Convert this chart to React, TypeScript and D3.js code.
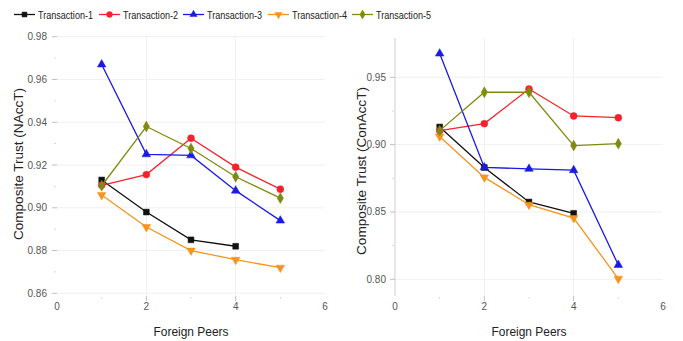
import React from "react";
import * as d3 from "d3";

const seriesNames = ["Transaction-1", "Transaction-2", "Transaction-3", "Transaction-4", "Transaction-5"];
const seriesColors = ["#111111", "#f5222d", "#1a1ae6", "#f7931e", "#808a12"];
const seriesShapes = ["square", "circle", "triangle", "triangleDown", "diamond"];

const peers = [1, 2, 3, 4, 5];

const naccT1 = [0.913, 0.898, 0.885, 0.882];
const naccT2 = [0.9105, 0.9155, 0.9325, 0.919, 0.9087];
const naccT3 = [0.967, 0.925, 0.9245, 0.908, 0.894];
const naccT4 = [0.906, 0.891, 0.880, 0.8757, 0.872];
const naccT5 = [0.9103, 0.938, 0.9277, 0.9145, 0.9045];

const conT1 = [0.9131, 0.883, 0.8574, 0.849];
const conT2 = [0.9104, 0.9156, 0.9413, 0.9213, 0.920];
const conT3 = [0.9676, 0.8831, 0.882, 0.881, 0.8106];
const conT4 = [0.906, 0.8757, 0.8554, 0.8455, 0.8004];
const conT5 = [0.9104, 0.9389, 0.9389, 0.8993, 0.9007];

const xTicks = [0, 2, 4, 6];
const leftYTicks = [0.86, 0.88, 0.90, 0.92, 0.94, 0.96, 0.98];
const rightYTicks = [0.80, 0.85, 0.90, 0.95];

const FONT = "Liberation Sans, Arial, sans-serif";

function Marker({ shape, x, y, color, scale = 1 }: { shape: string; x: number; y: number; color: string; scale?: number }) {
  const sym =
    shape === "square" ? d3.symbolSquare :
    shape === "circle" ? d3.symbolCircle :
    shape === "diamond" ? d3.symbolDiamond : d3.symbolTriangle;
  const size = (shape === "circle" ? 38 : shape === "square" ? 34 : shape === "diamond" ? 34 : 32) * scale;
  const path = d3.symbol().type(sym).size(size)() as string;
  const rot = shape === "triangleDown" ? 180 : 0;
  return <path d={path} transform={`translate(${x},${y}) rotate(${rot})`} fill={color} stroke={color} strokeWidth={0.5} />;
}

function Panel({
  x0, x1, top, bottom, yDomain, yRange, yTicks, data, yTitle, titleX, titleY, titleLen, labelX, showAxisLine,
}: {
  x0: number; x1: number; top: number; bottom: number; yDomain: [number, number]; yRange: [number, number];
  yTicks: number[]; data: number[][]; yTitle: string; titleX: number; titleY: number; titleLen: number;
  labelX: number; showAxisLine: boolean;
}) {
  const xs = d3.scaleLinear().domain([0, 6]).range([x0, x1]);
  const ys = d3.scaleLinear().domain(yDomain).range(yRange);
  const line = d3.line<number>().x((_, i) => xs(peers[i])).y((d) => ys(d));
  const minorY = yTicks.slice(0, -1).map((t, i) => (t + yTicks[i + 1]) / 2);
  return (
    <g>
      {yTicks.map((t) => (
        <line key={"gy" + t} x1={x0} x2={x1} y1={ys(t)} y2={ys(t)} stroke="#f0f0f0" strokeWidth={1} />
      ))}
      {[2, 4].map((t) => (
        <line key={"gx" + t} x1={xs(t)} x2={xs(t)} y1={top} y2={bottom} stroke="#f0f0f0" strokeWidth={1} />
      ))}
      {showAxisLine && <line x1={x0} x2={x0} y1={top} y2={bottom} stroke="#cfcfcf" strokeWidth={1} />}
      {yTicks.map((t) => (
        <g key={"yt" + t}>
          <line x1={x0 - 5} x2={x0} y1={ys(t)} y2={ys(t)} stroke="#c0c0c0" strokeWidth={1} />
          <text x={labelX} y={ys(t)} dy="0.35em" textAnchor="end" fontSize={10} fill="#555" fontFamily={FONT}>
            {t.toFixed(2)}
          </text>
        </g>
      ))}
      {minorY.map((t) => (
        <line key={"ym" + t} x1={x0 - 3} x2={x0 - 1} y1={ys(t)} y2={ys(t)} stroke="#d8d8d8" strokeWidth={1} />
      ))}
      {xTicks.map((t) => (
        <g key={"xt" + t}>
          {t > 0 && t < 6 && <line x1={xs(t)} x2={xs(t)} y1={bottom} y2={bottom + 5} stroke="#c0c0c0" strokeWidth={1} />}
          <text x={xs(t)} y={310} textAnchor="middle" fontSize={10} fill="#555" fontFamily={FONT}>
            {t}
          </text>
        </g>
      ))}
      {[1, 3, 5].map((t) => (
        <line key={"xm" + t} x1={xs(t)} x2={xs(t)} y1={bottom + 1} y2={bottom + 3} stroke="#d8d8d8" strokeWidth={1} />
      ))}
      <text x={(x0 + x1) / 2 - 0} y={336} textAnchor="middle" fontSize={13} fill="#222" fontFamily={FONT}
        textLength={75} lengthAdjust="spacingAndGlyphs">
        Foreign Peers
      </text>
      <text
        transform={`translate(${titleX},${titleY}) rotate(-90)`}
        textAnchor="middle"
        fontSize={13}
        fill="#222"
        fontFamily={FONT}
        textLength={titleLen}
        lengthAdjust="spacingAndGlyphs"
      >
        {yTitle}
      </text>
      {data.map((vals, si) => (
        <g key={"s" + si}>
          <path d={line(vals) as string} fill="none" stroke={seriesColors[si]} strokeWidth={1.3} />
          {vals.map((v, i) => (
            <Marker key={i} shape={seriesShapes[si]} x={xs(peers[i])} y={ys(v)} color={seriesColors[si]} />
          ))}
        </g>
      ))}
    </g>
  );
}

export default function App() {
  const legendX = [14, 99, 183, 268, 352];
  return (
    <svg width={683} height={341} style={{ position: "absolute", left: 0, top: 0, background: "#fff" }}>
      <rect width={683} height={341} fill="#fff" />
      {seriesNames.map((n, i) => (
        <g key={n}>
          <line x1={legendX[i]} x2={legendX[i] + 21} y1={14.5} y2={14.5} stroke={seriesColors[i]} strokeWidth={1.3} />
          <Marker shape={seriesShapes[i]} x={legendX[i] + 10.5} y={14.5} color={seriesColors[i]} scale={0.7} />
          <text x={legendX[i] + 24} y={14.5} dy="0.35em" fontSize={11.5} fill="#222" fontFamily={FONT}
            textLength={55} lengthAdjust="spacingAndGlyphs">
            {n}
          </text>
        </g>
      ))}
      <Panel
        x0={57} x1={325} top={34} bottom={296} yDomain={[0.86, 0.98]} yRange={[293.3, 36.7]}
        yTicks={leftYTicks} data={[naccT1, naccT2, naccT3, naccT4, naccT5]}
        yTitle="Composite Trust (NAccT)" titleX={23} titleY={164} titleLen={152} labelX={47} showAxisLine={false}
      />
      <Panel
        x0={395} x1={663} top={38} bottom={296} yDomain={[0.80, 0.95]} yRange={[279.3, 77.3]}
        yTicks={rightYTicks} data={[conT1, conT2, conT3, conT4, conT5]}
        yTitle="Composite Trust (ConAccT)" titleX={366} titleY={171} titleLen={168} labelX={386} showAxisLine={true}
      />
    </svg>
  );
}
